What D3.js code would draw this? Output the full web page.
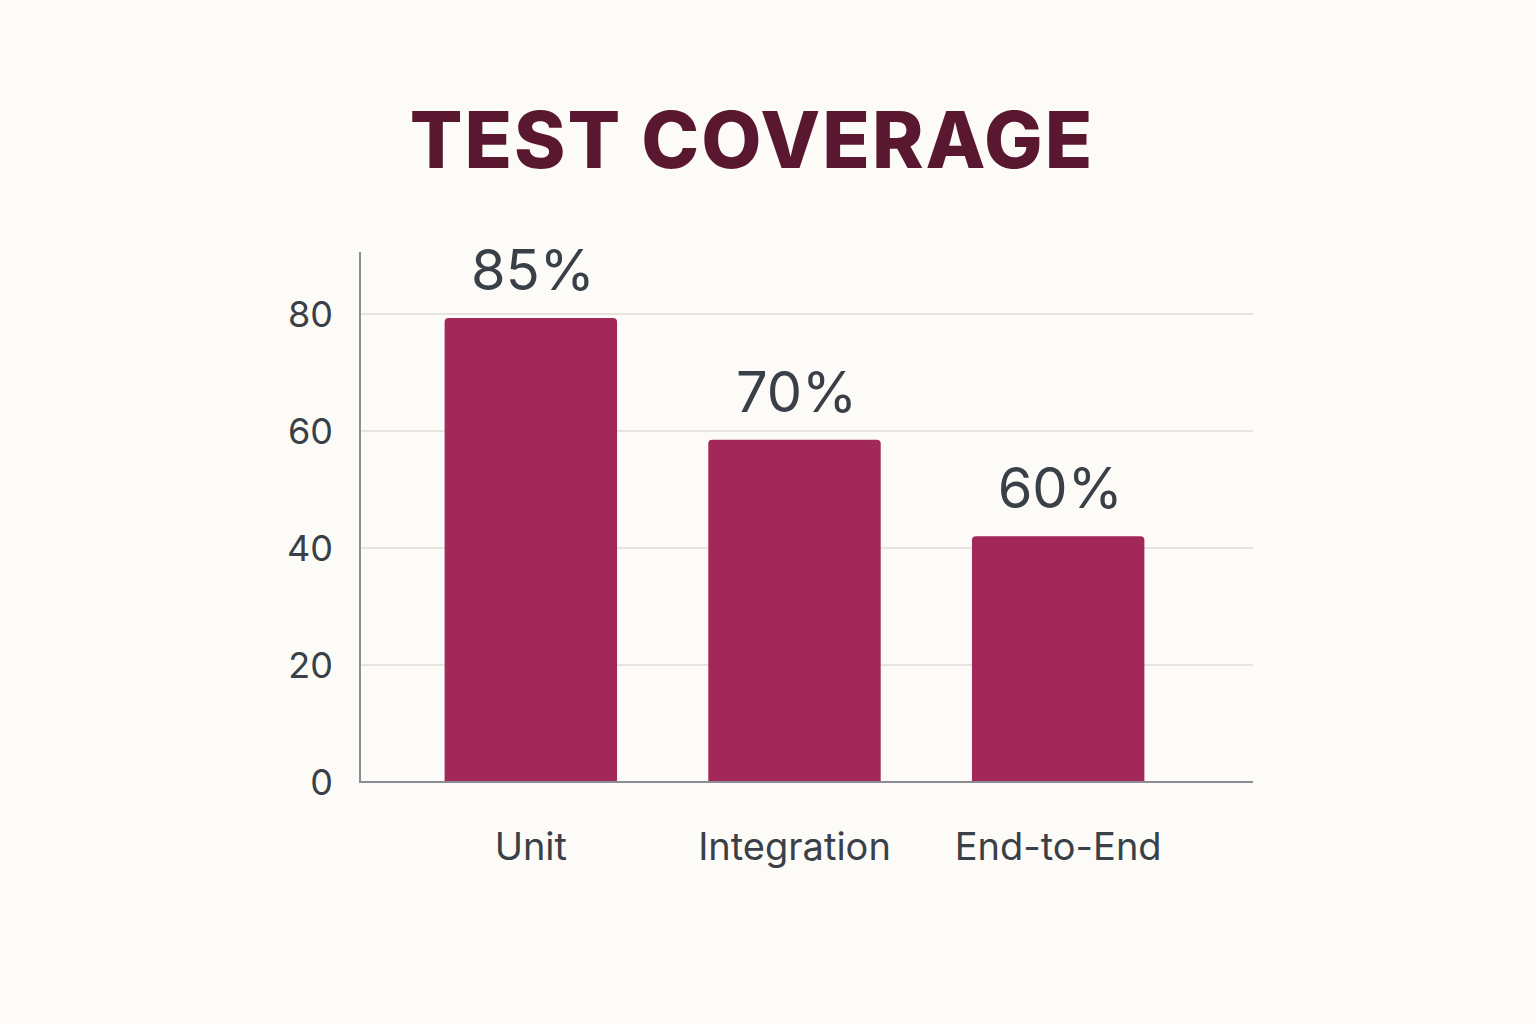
<!DOCTYPE html>
<html><head><meta charset="utf-8">
<script src="https://cdn.jsdelivr.net/npm/d3@7"></script>
<style>body{margin:0;background:#fcfbf7;}svg{display:block}</style>
</head><body>
<svg id="c" width="1536" height="1024"></svg>
<script>
const categories = ["Unit", "Integration", "End-to-End"];
const barValues = [79.3, 58.5, 42.0];
const valueLabels = ["85%", "70%", "60%"];
const yTicks = [0, 20, 40, 60, 80];

const svg = d3.select("#c");
svg.append("rect").attr("width",1536).attr("height",1024).attr("fill","#fcfbf7");
const y = d3.scaleLinear().domain([0, 90.6]).range([782, 252]);
const x = d3.scaleBand().domain(categories).range([399, 1190]).paddingInner(0.346).paddingOuter(0.173);
const txt = "#3a4048";

svg.append("text").attr("x",752).attr("y",168).attr("text-anchor","middle")
  .attr("font-family","Inter, Lato, sans-serif").attr("font-weight",800).attr("font-size",78)
  .attr("fill","#5a1730").attr("letter-spacing",2).text("TEST COVERAGE");

svg.selectAll(".grid").data(yTicks.filter(d=>d>0)).enter().append("line")
  .attr("x1",360).attr("x2",1253).attr("y1",d=>y(d)).attr("y2",d=>y(d))
  .attr("stroke","#e6e4df").attr("stroke-width",2);

svg.selectAll(".bar").data(categories).enter().append("path")
  .attr("fill","#a3285a")
  .attr("d",(c,i)=>{const x0=x(c),w=x.bandwidth(),t=y(barValues[i]),b=y(0),r=4;
    return `M${x0},${b}V${t+r}Q${x0},${t} ${x0+r},${t}H${x0+w-r}Q${x0+w},${t} ${x0+w},${t+r}V${b}Z`;});

svg.selectAll(".vl").data(categories).enter().append("text")
  .attr("x",c=>x(c)+x.bandwidth()/2+2).attr("y",(c,i)=>y(barValues[i])-28)
  .attr("text-anchor","middle").attr("font-family","Inter, sans-serif").attr("font-size",56)
  .attr("fill",txt).text((c,i)=>valueLabels[i]);

svg.selectAll(".yt").data(yTicks).enter().append("text")
  .attr("x",333).attr("y",d=>y(d)+13).attr("text-anchor","end")
  .attr("font-family","Inter, sans-serif").attr("font-size",36).attr("fill",txt).text(d=>d);

svg.selectAll(".xt").data(categories).enter().append("text")
  .attr("x",c=>x(c)+x.bandwidth()/2).attr("y",860).attr("text-anchor","middle")
  .attr("font-family","Inter, sans-serif").attr("font-size",38).attr("fill",txt).text(c=>c);

svg.append("line").attr("x1",360).attr("x2",360).attr("y1",252).attr("y2",783).attr("stroke","#8a8e94").attr("stroke-width",2);
svg.append("line").attr("x1",359).attr("x2",1253).attr("y1",y(0)).attr("y2",y(0)).attr("stroke","#8a8e94").attr("stroke-width",2);
</script>
</body></html>
